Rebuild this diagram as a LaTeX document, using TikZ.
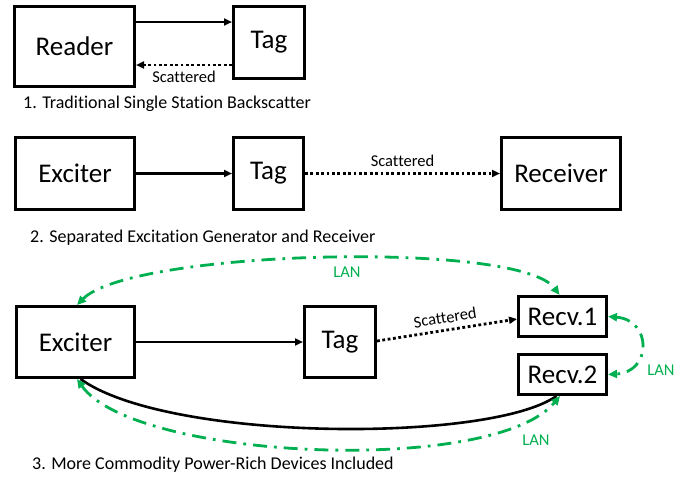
\documentclass[tikz,border=0pt]{standalone}
\usepackage{fontspec}
\setmainfont{Carlito}[Ligatures=NoCommon]
\usetikzlibrary{arrows.meta}
\definecolor{lan}{RGB}{0,176,80}
\tikzset{
  box/.style={draw, line width=3pt, inner sep=0pt, font=\fontsize{27}{30}\selectfont},
  sig/.style={line width=2.6pt, -{Triangle[length=8pt,width=7pt]}},
  scat/.style={line width=2.8pt, dash pattern=on 2.8pt off 2.6pt, -{Triangle[length=8pt,width=7pt]}},
  lanline/.style={lan, line width=2.8pt, dash pattern=on 14pt off 7pt on 2.8pt off 7pt,
    {Triangle[length=9pt,width=8pt]}-{Triangle[length=9pt,width=8pt]}},
  small/.style={font=\fontsize{16.5}{18}\selectfont},
  lantext/.style={text=lan, font=\fontsize{16.5}{18}\selectfont},
  caption/.style={anchor=west, inner sep=0pt, font=\fontsize{18}{20}\selectfont},
}
\begin{document}
\begin{tikzpicture}[x=1pt,y=-1pt]
\useasboundingbox (0,0) rectangle (686,477);
% ---------- section 1 ----------
\node[box, minimum width=120pt, minimum height=80pt] (reader) at (74.5,46.5) {Reader};
\node[box, minimum width=71pt, minimum height=72pt] (tagA) at (269,42.5) {Tag};
\coordinate (r1) at ([yshift=-17pt]reader.north east);
\draw[sig] (r1) -- (r1 -| tagA.west);
\coordinate (t1) at ([yshift=-60pt]tagA.north west);
\draw[scat] (t1) -- (t1 -| reader.east) node[small, midway, below=1pt] {Scattered};
\node[caption] (cap1) at (23,104) {1. Traditional Single Station Backscatter};
% ---------- section 2 ----------
\node[box, minimum width=119pt, minimum height=72pt] (excB) at (75,173.5) {Exciter};
\node[box, minimum width=70pt, minimum height=72pt] (tagB) at (268.5,173.5) {Tag};
\node[box, minimum width=119pt, minimum height=72pt] (recB) at (561,173.5) {Receiver};
\draw[sig] (excB) -- (tagB);
\draw[scat] (tagB) -- (recB) node[small, midway, above=2pt] {Scattered};
\node[caption] (cap2) at (30,238) {2. Separated Excitation Generator and Receiver};
% ---------- section 3 ----------
\node[box, minimum width=118pt, minimum height=71pt] (excC) at (75.5,342) {Exciter};
\node[box, minimum width=71pt, minimum height=71pt] (tagC) at (340,342) {Tag};
\node[box, minimum width=88pt, minimum height=40pt] (rec1) at (562.5,316.5) {Recv.1};
\node[box, minimum width=88pt, minimum height=40pt] (rec2) at (562.5,374.5) {Recv.2};
\draw[sig] (excC) -- (tagC);
\draw[scat] ([yshift=1pt]tagC.east) -- ([yshift=-2.5pt]rec1.west)
  node[small, midway, sloped, above=2pt] {Scattered};
% black curve exciter -> recv.2
\draw[line width=2.6pt] ([xshift=5pt]excC.south) .. controls (168,442) and (490,443) .. ([xshift=-6pt]rec2.south);
% LAN links
\draw[lanline] ([xshift=1.5pt]excC.north) .. controls (131,250) and (519,240) .. ([xshift=-3pt]rec1.north);
\node[lantext] (lan1) at (347,272) {LAN};
\draw[lanline] (rec1.east) .. controls (652,320) and (652,372) .. (rec2.east);
\node[lantext] (lan2) at (661,370) {LAN};
\draw[lanline] ([xshift=1.5pt]excC.south) .. controls (134,460) and (493,476) .. ([xshift=-2.5pt]rec2.south);
\node[lantext] (lan3) at (536,440) {LAN};
\node[caption] (cap3) at (32,465) {3. More Commodity Power-Rich Devices Included};
\end{tikzpicture}
\end{document}
